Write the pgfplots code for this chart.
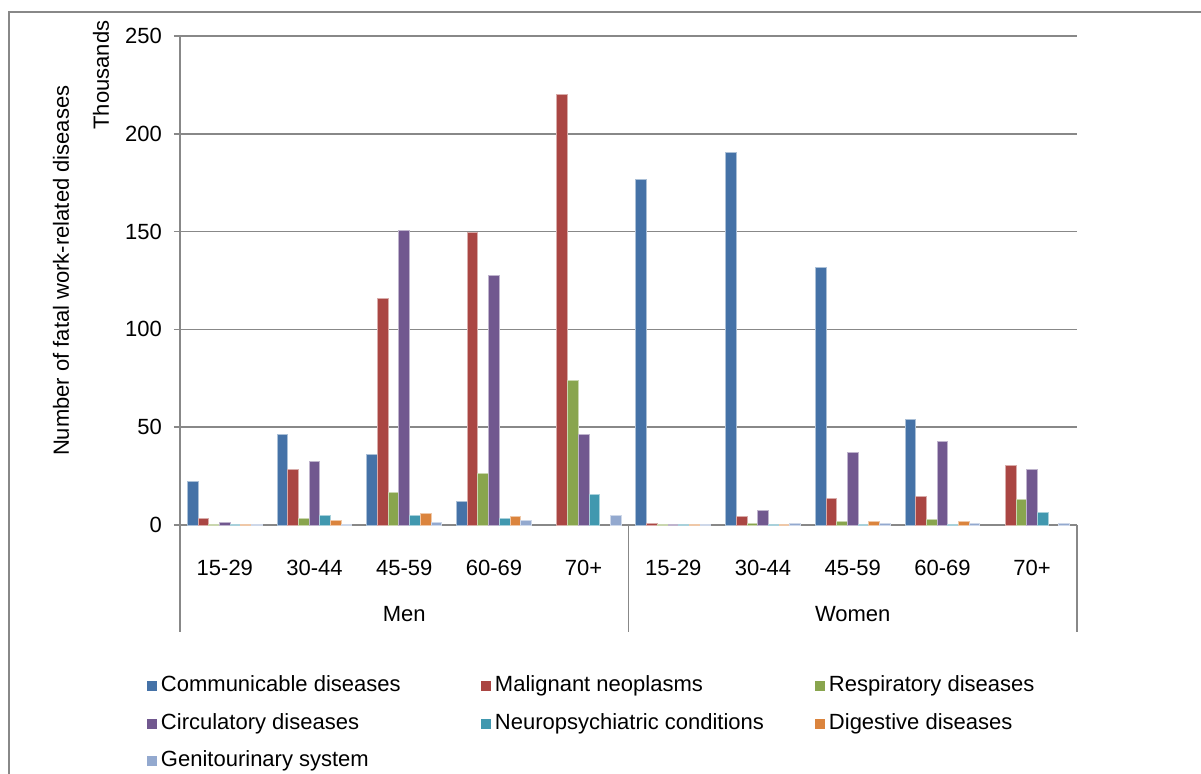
\documentclass[border=0pt]{standalone}
\usepackage{pgfplots}
\usepackage{pgfplotstable}
\pgfplotsset{compat=1.18}
\usepackage{fontspec}
\setmainfont{Liberation Sans}
\definecolor{c1}{HTML}{4572A7}
\definecolor{c2}{HTML}{AA4643}
\definecolor{c3}{HTML}{89A54E}
\definecolor{c4}{HTML}{71588F}
\definecolor{c5}{HTML}{4198AF}
\definecolor{c6}{HTML}{DB843D}
\definecolor{c7}{HTML}{93A9CF}
\definecolor{axgray}{HTML}{888888}
\pgfplotstableread{
x  comm   malig  resp  circ   neuro  dig   gen
0  22     3.2    0.5   1.2    0.5    0.5   0.5
1  46.5   28.5   3.2   32.5   5      2.2   0.5
2  36     116    16.5  150.5  5      6     1.4
3  11.8   149.5  26.5  127.5  3.2    4.2   2.4
4  nan    220    74    46.5   15.5   nan   5
5  176.5  0.6    0.5   0.5    0.5    0.5   0.5
6  190.5  4.4    0.6   7.2    0.5    0.5   0.6
7  131.8  13.6   1.7   37     0.5    1.7   0.8
8  53.8   14.7   2.6   42.6   0.5    1.7   0.8
9  nan    30.5   12.8  28.3   6.3    nan   0.8
}\datatable
\begin{document}
\begin{tikzpicture}[font=\fontsize{11pt}{13pt}\selectfont]
\begin{axis}[
  scale only axis, clip=false,
  width=448.5pt, height=244.5pt,
  ybar=0pt, bar width=5.35pt,
  xmin=-0.5, xmax=9.5,
  ymin=0, ymax=250,
  ytick={0,50,100,150,200,250},
  xtick={0,1,2,3,4,5,6,7,8,9},
  xticklabels={15-29,30-44,45-59,60-69,70+,15-29,30-44,45-59,60-69,70+},
  axis x line=bottom, axis y line=left,
  axis line style={draw=axgray, line width=0.75pt, -},
  xtick style={draw=none},
  ytick style={draw=axgray, line width=0.75pt},
  tick align=outside, major tick length=3pt,
  ymajorgrids, grid style={draw=axgray, line width=0.75pt},
  /pgf/number format/assume math mode=true,
  xticklabel style={anchor=center, yshift=-18.5pt},
  yticklabel style={xshift=-2.5pt},
  legend columns=3,
  legend image code/.code={\fill[#1,draw=none] (0pt,-2.5pt) rectangle (5pt,2.5pt);},
  legend style={draw=none, fill=none, inner sep=0pt, outer sep=0pt,
    at={(rel axis cs:0,0)}, anchor=north west, xshift=-16.5pt, yshift=-75.25pt,
    nodes={inner sep=0pt, text height=8pt, text depth=2.5pt, anchor=west},
    row sep=8.25pt,
    /tikz/every odd column/.style={column sep=2pt},
    /tikz/every even column/.style={column sep=0pt}},
  every axis plot/.append style={line width=0.5pt},
]
\addplot[fill=c1, draw=c1!45!white] table[x=x,y=comm]{\datatable};
\addplot[fill=c2, draw=c2!45!white] table[x=x,y=malig]{\datatable};
\addplot[fill=c3, draw=c3!45!white] table[x=x,y=resp]{\datatable};
\addplot[fill=c4, draw=c4!45!white] table[x=x,y=circ]{\datatable};
\addplot[fill=c5, draw=c5!45!white] table[x=x,y=neuro]{\datatable};
\addplot[fill=c6, draw=c6!45!white] table[x=x,y=dig]{\datatable};
\addplot[fill=c7, draw=c7!45!white] table[x=x,y=gen]{\datatable};
\legend{\makebox[160pt][l]{Communicable diseases},\makebox[160pt][l]{Malignant neoplasms},\makebox[160pt][l]{Respiratory diseases},
\makebox[160pt][l]{Circulatory diseases},\makebox[160pt][l]{Neuropsychiatric conditions},\makebox[160pt][l]{Digestive diseases},
\makebox[160pt][l]{Genitourinary system}}
\draw[axgray, line width=0.75pt] (axis cs:-0.5,0) -- ([yshift=-53.5pt]axis cs:-0.5,0);
\draw[axgray, line width=0.75pt] (axis cs:4.5,0) -- ([yshift=-53.5pt]axis cs:4.5,0);
\draw[axgray, line width=0.75pt] (axis cs:9.5,0) -- ([yshift=-53.5pt]axis cs:9.5,0);
\node at ([yshift=-44.5pt]axis cs:2,0) {Men};
\node at ([yshift=-44.5pt]axis cs:7,0) {Women};
\node[rotate=90] at ([xshift=-59.5pt]rel axis cs:0,0.52) {Number of fatal work-related diseases};
\node[rotate=90] at ([xshift=-39.5pt]rel axis cs:0,0.92) {Thousands};
\end{axis}
\draw[axgray, line width=0.75pt] (-85.5pt,-130pt) -- (-85.5pt,256.5pt) -- (520pt,256.5pt);
\pgfresetboundingbox
\path[use as bounding box] (-90pt,-124pt) rectangle (510.5pt,262.5pt);
\end{tikzpicture}
\end{document}
